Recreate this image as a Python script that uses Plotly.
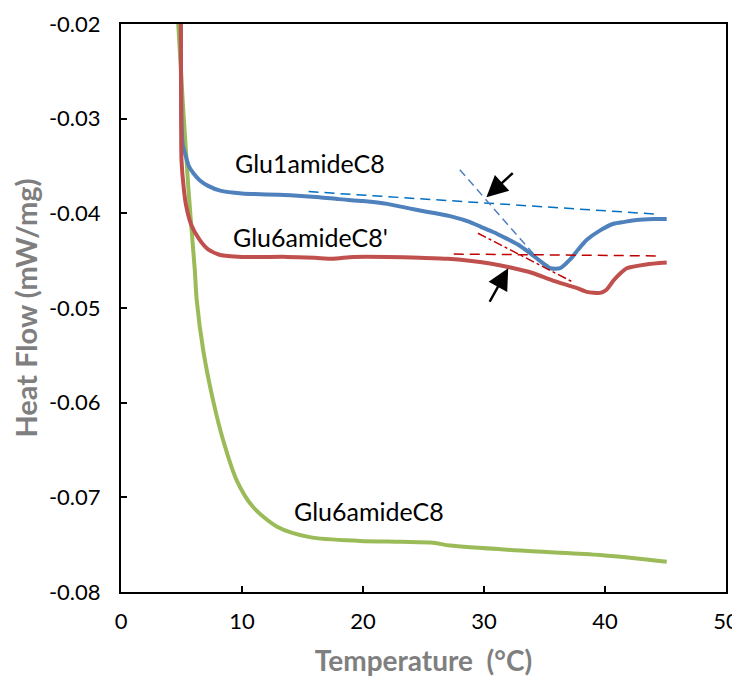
import plotly.graph_objects as go

# ---- data ----
blue_x = [4.93, 5.0, 5.1, 5.3, 5.6, 6.0, 6.5, 7.2, 8.2, 10, 12, 14, 16.4, 18, 20, 22, 23.9, 24.7, 26,
          27.5, 28.8, 29.7, 30.8, 31.6, 32.8, 33.8, 34.7, 35.5, 36.3, 37.1, 37.8, 38.5, 39.6, 40.7,
          41.6, 42.6, 44, 45.1]
blue_y = [-0.015, -0.030, -0.0328, -0.0337, -0.0350, -0.0358, -0.0365, -0.0371, -0.0376, -0.0379,
          -0.0380, -0.0381, -0.0383, -0.0385, -0.0387, -0.0390, -0.0395, -0.0397, -0.0400, -0.0404,
          -0.0409, -0.0414, -0.0420, -0.0425, -0.0433, -0.0442, -0.0451, -0.0458, -0.0458, -0.0449,
          -0.0438, -0.0428, -0.0418, -0.0411, -0.0409, -0.0407, -0.0406, -0.0406]

red_x = [4.93, 4.97, 5.0, 5.2, 5.4, 5.8, 6.5, 7.2, 8.2, 10, 13.7, 16, 17.5, 19.2, 22, 24.7, 27, 28.8,
         30.5, 32.1, 34, 35.7, 37.7, 38.5, 39.6, 40.1, 40.7, 41.3, 41.8, 43.4, 45.1]
red_y = [-0.015, -0.030, -0.0344, -0.0375, -0.0393, -0.0412, -0.0428, -0.0438, -0.0444, -0.0446,
         -0.0446, -0.0447, -0.0448, -0.0446, -0.0446, -0.0447, -0.0448, -0.0450, -0.0453, -0.0457,
         -0.0463, -0.0471, -0.0479, -0.0483, -0.0484, -0.0481, -0.0471, -0.0463, -0.0458, -0.0454,
         -0.0452]

green_x = [4.6, 4.73, 5.56, 6.1, 6.26, 6.8, 7.6, 8.45, 9.56, 10.9, 12.9, 15.6, 19.75, 23.1, 25.8,
           27.2, 34.0, 39.6, 45.1]
green_y = [-0.015, -0.020, -0.0372, -0.0460, -0.0492, -0.0545, -0.0597, -0.0640, -0.0682, -0.0710,
           -0.0731, -0.0742, -0.0746, -0.0747, -0.0748, -0.0751, -0.0757, -0.0761, -0.0768]

# construction lines (onset tangents)
blue_base_x = [15.5, 44.5]
blue_base_y = [-0.0377, -0.0401]
blue_tan_x = [28.0, 34.3]
blue_tan_y = [-0.0354, -0.0446]
red_base_x = [27.5, 44.4]
red_base_y = [-0.0443, -0.0445]
red_tan_x = [29.5, 37.4]
red_tan_y = [-0.0421, -0.0473]

# arrows: (tail_x, tail_y, head_x, head_y)
arrows = [(32.5, -0.0356, 30.2, -0.0383), (30.4, -0.0495, 32.0, -0.0458)]

labels = ["Glu1amideC8", "Glu6amideC8'", "Glu6amideC8"]
label_x = [15.6, 15.7, 20.5]
label_y = [-0.0347, -0.0425, -0.0714]

x_ticks = [0, 10, 20, 30, 40, 50]
y_ticks = [-0.02, -0.03, -0.04, -0.05, -0.06, -0.07, -0.08]

FONT = "Lato"

fig = go.Figure()
fig.add_trace(go.Scatter(x=green_x, y=green_y, mode="lines",
                         line=dict(color="#9BBB59", width=4, shape="spline", smoothing=0.8)))
fig.add_trace(go.Scatter(x=blue_x, y=blue_y, mode="lines",
                         line=dict(color="#4F81BD", width=4, shape="spline", smoothing=0.6)))
fig.add_trace(go.Scatter(x=red_x, y=red_y, mode="lines",
                         line=dict(color="#C0504D", width=4, shape="spline", smoothing=0.6)))

fig.add_trace(go.Scatter(x=blue_base_x, y=blue_base_y, mode="lines",
                         line=dict(color="#0070C0", width=1.5, dash="10px,6px")))
fig.add_trace(go.Scatter(x=blue_tan_x, y=blue_tan_y, mode="lines",
                         line=dict(color="#4F81BD", width=1.5, dash="8px,5px")))
fig.add_trace(go.Scatter(x=red_base_x, y=red_base_y, mode="lines",
                         line=dict(color="#C00000", width=1.5, dash="10px,6px")))
fig.add_trace(go.Scatter(x=red_tan_x, y=red_tan_y, mode="lines",
                         line=dict(color="#C00000", width=1.5, dash="dashdot")))

for tx, ty, hx, hy in arrows:
    fig.add_annotation(x=hx, y=hy, ax=tx, ay=ty, xref="x", yref="y", axref="x", ayref="y",
                       showarrow=True, arrowhead=2, arrowsize=1.7, arrowwidth=2.5,
                       arrowcolor="black", text="")

for t, lx, ly in zip(labels, label_x, label_y):
    fig.add_annotation(x=lx, y=ly, text=t, showarrow=False, xref="x", yref="y",
                       font=dict(family=FONT, size=25, color="black"))

# the page body adds an 8px offset, so the figure is 8px smaller and margins shifted
fig.update_layout(
    width=732, height=670,
    margin=dict(l=113, r=14, t=16, b=86, autoexpand=False),
    paper_bgcolor="white", plot_bgcolor="white",
    showlegend=False,
    font=dict(family=FONT, size=22, color="black"),
)
fig.update_xaxes(
    range=[0, 50], tickvals=x_ticks, ticktext=[str(v) for v in x_ticks],
    showgrid=False, zeroline=False, showline=True, linecolor="black", linewidth=2,
    mirror=True, ticks="inside", ticklen=6, tickwidth=1.5, tickcolor="black",
    ticklabelstandoff=9, automargin=False,
    title=dict(text="Temperature\u00a0 (°C)", font=dict(family=FONT, size=28, color="#7F7F7F",
                                                        weight="bold"), standoff=18),
)
fig.update_yaxes(
    range=[-0.08, -0.02], tickvals=y_ticks, ticktext=[f"{v:.2f}" for v in y_ticks],
    showgrid=False, zeroline=False, showline=True, linecolor="black", linewidth=2,
    mirror=True, ticks="inside", ticklen=6, tickwidth=1.5, tickcolor="black",
    ticklabelstandoff=14, automargin=False,
    title=dict(text="Heat Flow (mW/mg)", font=dict(family=FONT, size=29, color="#7F7F7F",
                                                 weight="bold"), standoff=16),
)

fig.write_html("out.html")
